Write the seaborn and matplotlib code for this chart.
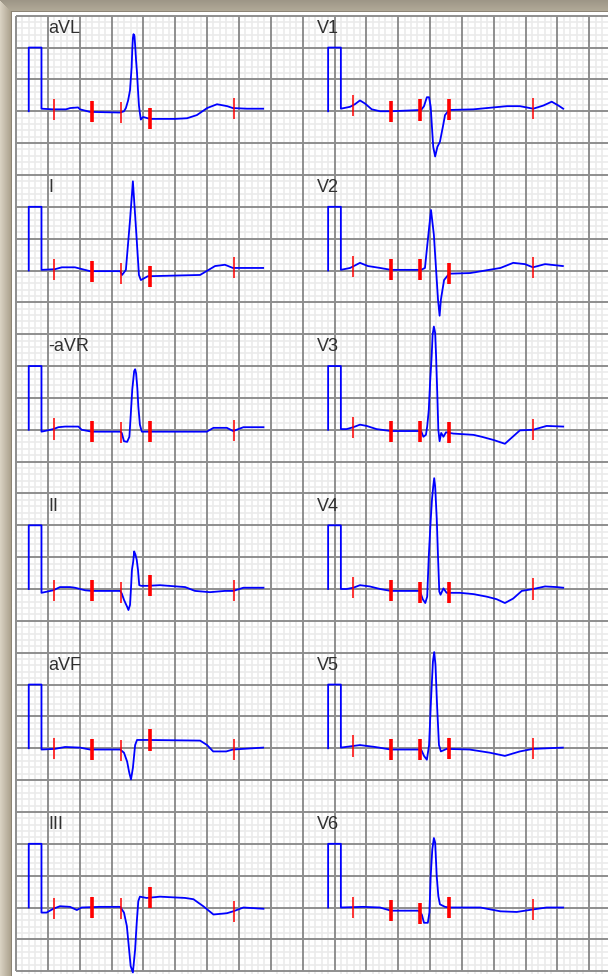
import numpy as np
import matplotlib
matplotlib.use("Agg")
import matplotlib.pyplot as plt
import seaborn as sns

# ---------------- data (time in ms, amplitude in mV) ----------------
cal_t = [40, 40, 80]
cal_mv = [0.0, 1.0, 1.0]

left_leads = ["aVL", "I", "-aVR", "II", "aVF", "III"]
right_leads = ["V1", "V2", "V3", "V4", "V5", "V6"]

avl_t = [80, 116, 157, 170, 195, 201, 232, 327, 339, 345, 352, 358, 363, 365, 367, 369, 372, 374, 377, 380,
         383, 386, 389, 392, 399, 421, 499, 537, 568, 600, 631, 663, 681, 725, 776]
avl_mv = [0.04, 0.03, 0.03, 0.05, 0.06, 0.03, -0.01, -0.02, 0.0, 0.05, 0.17, 0.33, 0.69, 0.96, 1.15, 1.21, 1.18,
          1.04, 0.8, 0.6, 0.33, 0.09, -0.03, -0.13, -0.09, -0.12, -0.12, -0.11, -0.06, 0.05, 0.11, 0.08, 0.05,
          0.04, 0.04]

i_t = [80, 122, 144, 185, 232, 327, 333, 345, 358, 367, 377, 386, 392, 414, 578, 625, 656, 681, 776]
i_mv = [0.01, 0.02, 0.05, 0.05, -0.01, -0.01, -0.07, 0.01, 0.79, 1.40, 0.64, -0.07, -0.15, -0.09, -0.07, 0.07,
        0.09, 0.04, 0.04]

maVR_t = [80, 117, 133, 154, 196, 206, 238, 327, 332, 339, 349, 356, 360, 365, 371, 374, 377, 381, 384, 389,
          395, 415, 599, 620, 662, 682, 714, 777]
maVR_mv = [-0.03, 0.01, 0.04, 0.05, 0.05, 0.0, -0.03, -0.03, -0.05, -0.18, -0.19, -0.11, 0.21, 0.63, 0.92, 0.95,
           0.89, 0.65, 0.37, 0.08, -0.03, -0.03, -0.03, 0.03, 0.03, -0.02, 0.04, 0.04]

ii_t = [80, 117, 138, 170, 185, 217, 238, 327, 332, 339, 349, 353, 358, 361, 364, 368, 371, 375, 379, 383, 387,
        393, 414, 452, 531, 562, 609, 656, 682, 714, 777]
ii_mv = [-0.06, -0.02, 0.03, 0.03, 0.02, -0.02, -0.03, -0.03, -0.07, -0.17, -0.28, -0.33, -0.25, 0.01, 0.3, 0.43,
         0.59, 0.54, 0.46, 0.3, 0.06, 0.05, 0.05, 0.06, 0.03, -0.03, -0.05, -0.03, -0.03, 0.02, 0.02]

avf_t = [80, 122, 154, 201, 232, 327, 339, 349, 355, 361, 367, 374, 380, 414, 578, 600, 619, 660, 681, 776]
avf_mv = [-0.02, -0.01, 0.02, 0.01, -0.02, -0.02, -0.07, -0.21, -0.37, -0.49, -0.31, 0.05, 0.13, 0.13, 0.12, 0.05,
          -0.05, -0.05, -0.02, 0.01]

iii_t = [80, 96, 117, 138, 170, 191, 206, 264, 327, 339, 348, 353, 360, 367, 374, 379, 384, 389, 410, 452, 531,
         557, 588, 620, 662, 682, 714, 777]
iii_mv = [-0.08, -0.08, -0.02, 0.02, 0.01, -0.04, 0.0, 0.01, 0.01, -0.08, -0.29, -0.55, -0.92, -1.02, -0.66, -0.24,
          0.1, 0.17, 0.15, 0.17, 0.15, 0.13, 0.02, -0.11, -0.09, -0.06, 0.0, -0.02]

v1_t = [80, 109, 124, 140, 156, 177, 203, 237, 332, 341, 350, 357, 362, 366, 370, 376, 383, 391, 400, 407, 420,
        496, 538, 601, 642, 684, 716, 742, 763, 778]
v1_mv = [0.04, 0.07, 0.11, 0.17, 0.12, 0.03, 0.0, 0.0, 0.02, 0.08, 0.22, 0.22, 0.07, -0.25, -0.56, -0.71, -0.56,
         -0.48, -0.25, -0.06, 0.02, 0.03, 0.05, 0.08, 0.08, 0.04, 0.09, 0.15, 0.09, 0.04]

v2_t = [80, 109, 140, 165, 203, 237, 332, 344, 353, 363, 372, 379, 385, 390, 394, 404, 420, 486, 581, 621, 658,
        683, 721, 777]
v2_mv = [0.01, 0.04, 0.12, 0.07, 0.04, 0.01, 0.01, 0.04, 0.48, 0.95, 0.56, 0.01, -0.46, -0.71, -0.46, -0.15,
         -0.05, -0.04, 0.04, 0.12, 0.1, 0.05, 0.1, 0.07]

v3_t = [80, 98, 119, 140, 161, 192, 237, 332, 339, 347, 351, 356, 360, 365, 368, 372, 376, 379, 383, 386, 390,
        395, 402, 410, 433, 496, 522, 559, 595, 642, 684, 726, 778]
v3_mv = [0.01, 0.01, 0.04, 0.08, 0.06, 0.01, -0.02, -0.02, -0.11, -0.08, 0.05, 0.31, 0.73, 1.15, 1.49, 1.62,
         1.52, 1.15, 0.52, 0.0, -0.18, -0.05, -0.11, -0.04, -0.06, -0.08, -0.11, -0.16, -0.22, -0.01, 0.0, 0.06,
         0.05]

v4_t = [80, 98, 119, 140, 171, 203, 237, 328, 337, 345, 351, 356, 362, 366, 370, 373, 376, 381, 385, 389, 393,
        402, 412, 454, 496, 538, 569, 595, 621, 648, 684, 721, 758, 778]
v4_mv = [0.0, 0.0, 0.02, 0.06, 0.04, 0.0, -0.03, -0.03, -0.16, -0.22, -0.12, 0.51, 1.08, 1.4, 1.61, 1.74, 1.61,
         1.11, 0.51, -0.04, -0.09, 0.01, -0.06, -0.06, -0.08, -0.12, -0.16, -0.22, -0.15, -0.03, 0.0, 0.04, 0.03,
         0.02]

v5_t = [80, 140, 187, 237, 332, 341, 350, 357, 363, 369, 373, 377, 382, 388, 394, 412, 484, 548, 595, 642, 683,
        777]
v5_mv = [0.01, 0.05, 0.02, -0.02, -0.02, -0.12, -0.18, 0.05, 0.76, 1.36, 1.51, 1.31, 0.68, 0.05, -0.05, -0.01,
         -0.02, -0.07, -0.12, -0.05, -0.01, 0.01]

v6_t = [80, 150, 203, 237, 323, 334, 341, 353, 358, 362, 367, 372, 376, 381, 386, 391, 407, 420, 518, 581, 632,
        684, 726, 778]
v6_mv = [0.0, 0.01, 0.0, -0.05, -0.05, -0.11, -0.24, -0.24, -0.08, 0.49, 0.91, 1.09, 1.02, 0.49, 0.18, 0.05,
         0.01, 0.0, 0.0, -0.06, -0.07, -0.03, 0.0, 0.0]

marker_t = [118, 238, 330, 420, 684]

left_data = [(avl_t, avl_mv), (i_t, i_mv), (maVR_t, maVR_mv), (ii_t, ii_mv), (avf_t, avf_mv), (iii_t, iii_mv)]
right_data = [(v1_t, v1_mv), (v2_t, v2_mv), (v3_t, v3_mv), (v4_t, v4_mv), (v5_t, v5_mv), (v6_t, v6_mv)]

# ---------------- layout constants ----------------
W, H = 608, 976
PX_MM = 6.37            # pixels per mm of paper
GX0, GY0 = 16.0, 15.7   # pixel position of grid origin
SPEED = 0.05            # mm per ms (50 mm/s)
GAIN = 10.0             # mm per mV
COL_OFF = [0.0, 47.0]
ROW_H = 25.0
BASE0 = 15.0

fig = plt.figure(figsize=(W / 100, H / 100), dpi=100)
fig.patch.set_facecolor("white")

# window frame (beige gradient strips)
bg = fig.add_axes([0, 0, 1, 1])
bg.set_axis_off()
img = np.ones((H, W, 3))
c_out = np.array([0.85, 0.82, 0.76])
c_in = np.array([0.66, 0.62, 0.54])
for k in range(12):
    f = k / 11.0
    img[:, k, :] = c_out * (1 - f) + c_in * f
for k in range(12):
    f = k / 11.0
    img[k, k:, :] = np.array([0.62, 0.59, 0.53]) * (1 - f) + np.array([0.70, 0.67, 0.60]) * f
img[11, 11:, :] = [0.55, 0.52, 0.46]
img[11:, 11, :] = [0.55, 0.52, 0.46]
bg.imshow(img, extent=[0, W, H, 0], aspect="auto", interpolation="nearest")
bg.set_xlim(0, W)
bg.set_ylim(H, 0)

# ECG paper axes (units: mm, y downward)
x_lo, x_hi = -0.4, (W - GX0) / PX_MM
y_lo, y_hi = -0.4, 150.45
left_px = GX0 + x_lo * PX_MM
top_px = GY0 + y_lo * PX_MM
bot_px = GY0 + y_hi * PX_MM
ax = fig.add_axes([left_px / W, (H - bot_px) / H, (W - left_px) / W, (bot_px - top_px) / H])
ax.set_xlim(x_lo, x_hi)
ax.set_ylim(y_hi, y_lo)
ax.set_facecolor("white")
ax.set_axis_off()

xs = np.arange(0, int(x_hi) + 1)
ys = np.arange(0, 151)
minor_x = [v for v in xs if v % 5]
minor_y = [v for v in ys if v % 5]
ax.vlines(minor_x, 0, y_hi, color="#ebebeb", lw=1.2, zorder=1)
ax.hlines(minor_y, 0, x_hi, color="#ebebeb", lw=1.2, zorder=1)
ax.vlines([v for v in xs if v % 5 == 0], 0, 150, color="#8e8e8e", lw=1.4, zorder=2)
ax.hlines([v for v in ys if v % 5 == 0], 0, x_hi, color="#8e8e8e", lw=1.4, zorder=2)

styles = {0: [1.1, 2.6, 1.1, 2.6, 1.1], 1: [1.1, 2.6, 2.6, 2.6, 1.1]}
label_dx = {0: 5.1, 1: 0.3}

for c, (names, data) in enumerate([(left_leads, left_data), (right_leads, right_data)]):
    for r, (name, (t, mv)) in enumerate(zip(names, data)):
        base = BASE0 + r * ROW_H
        tt = np.array(cal_t + t, dtype=float)
        vv = np.array(cal_mv + mv, dtype=float)
        x = COL_OFF[c] + tt * SPEED
        y = base - vv * GAIN
        x = np.concatenate([[COL_OFF[c] + cal_t[0] * SPEED], x])
        y = np.concatenate([[base], y])
        sns.lineplot(x=x, y=y, ax=ax, sort=False, estimator=None, color="#0000ff",
                     linewidth=1.3, zorder=4, legend=False)
        ax.lines[-1].set_clip_on(False)
        for m, lw in zip(marker_t, styles[c]):
            yc = base - np.interp(m, t, mv) * GAIN
            ax.plot([COL_OFF[c] + m * SPEED] * 2, [yc - 1.65, yc + 1.65], color="#ff0000",
                    lw=lw, zorder=5, solid_capstyle="butt")
        ax.text(COL_OFF[c] + label_dx[c], base - 15 + 2.7, name, fontsize=13,
                family=["Liberation Sans", "DejaVu Sans"], color="#303030",
                ha="left", va="baseline", zorder=6)

fig.savefig("out.png", dpi=100)
